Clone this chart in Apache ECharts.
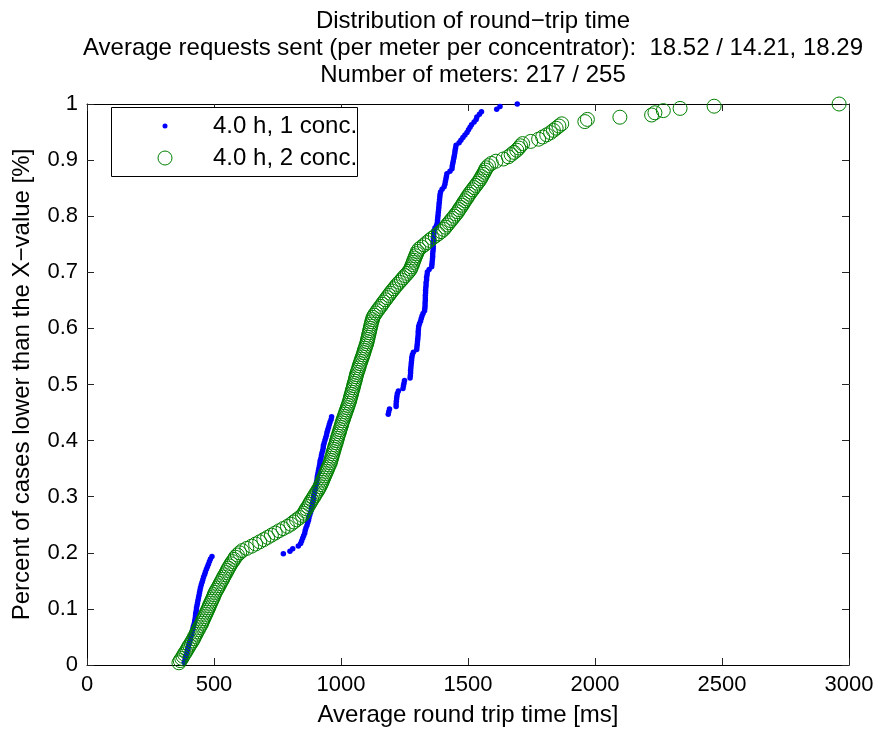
<!DOCTYPE html>
<html>
<head>
<meta charset="utf-8">
<script src="https://cdn.jsdelivr.net/npm/echarts@6/dist/echarts.min.js"></script>
<style>html,body{margin:0;padding:0;background:#fff;}#c{width:882px;height:733px;}</style>
</head>
<body>
<div id="c"></div>
<script>
// Sorted round-trip times (ms), one per meter
const blueX = [
383,386,388,391,394,396,399,402,404,407,409,412,414,417,419,422,424,426,427,428,
430,431,433,435,437,439,441,443,445,447,450,453,456,459,463,466,470,474,478,482,
486,492,
773,799,810,832,841,845,849,853,857,859,862,866,869,872,874,877,880,883,885,887,
889,891,892,894,896,898,900,902,904,906,907,909,911,913,915,917,918,921,923,925,
928,930,931,934,937,940,943,945,948,951,954,957,961,963,
1186,1188,1191,1217,1217,1218,1219,1220,1222,1226,1244,1246,1248,1250,
1272,1273,1274,1274,1275,1276,1277,1278,1279,1281,1285,
1298,1299,1300,1301,1302,1303,1304,1304,1305,1306,1309,1313,1316,1319,1323,
1329,1330,1331,1331,1332,1332,1332,1333,1333,1334,1335,1335,1337,1337,1339,1340,
1347,1357,1358,1359,1360,1361,1361,1362,1363,1363,1363,1364,1364,1365,1365,1366,
1370,1376,1379,1380,1381,1382,1383,1384,1385,1386,1387,1388,1389,1390,1392,
1398,1406,1409,1411,1413,1415,1417,1429,1437,1438,1440,1442,1444,1446,1448,1449,
1451,1453,1465,1472,1480,1488,1496,1502,1508,1514,1524,1532,1535,1545,1553,
1613,1626,1694
];
const greenX = [
362,367,373,378,383,389,394,399,404,410,
415,420,424,429,433,438,442,447,452,455,
459,463,467,471,475,479,482,486,490,494,
498,501,505,510,515,520,524,529,534,538,
543,548,552,557,562,567,573,579,584,592,
601,611,629,648,664,680,696,711,726,741,
756,772,789,803,814,825,837,848,854,859,
864,870,875,880,885,891,896,901,907,912,
917,921,925,928,932,936,939,943,947,950,
954,958,960,963,965,968,970,973,975,978,
981,983,986,988,991,994,996,999,1002,1004,
1007,1010,1013,1016,1019,1022,1025,1028,1031,1034,
1036,1038,1041,1043,1045,1048,1050,1052,1055,1057,
1059,1061,1064,1067,1070,1072,1075,1078,1081,1084,
1087,1090,1092,1095,1098,1101,1103,1105,1107,1109,
1111,1113,1115,1117,1119,1121,1124,1126,1131,1137,
1143,1149,1156,1162,1168,1175,1181,1188,1194,1201,
1208,1215,1222,1230,1238,1245,1253,1261,1268,1274,
1277,1281,1284,1287,1291,1294,1298,1301,1307,1317,
1328,1338,1348,1359,1371,1383,1394,1404,1411,1418,
1425,1432,1439,1446,1453,1460,1465,1471,1477,1482,
1488,1494,1499,1505,1511,1518,1524,1531,1537,1544,
1549,1554,1559,1564,1568,1573,1581,1592,1610,1639,
1659,1670,1681,1692,1700,1707,1715,1747,1778,1794,
1810,1825,1836,1847,1858,1869,1960,1970,2098,2223,
2236,2269,2335,2469,2961
];
const seriesNames = ['4.0 h, 1 conc.', '4.0 h, 2 conc.'];
const xTicks = [0, 500, 1000, 1500, 2000, 2500, 3000];
const yTicks = [0, 0.1, 0.2, 0.3, 0.4, 0.5, 0.6, 0.7, 0.8, 0.9, 1];
const titleLines = [
  'Distribution of round\u2212trip time',
  'Average requests sent (per meter per concentrator):  18.52 / 14.21, 18.29',
  'Number of meters: 217 / 255'
];
const xName = 'Average round trip time [ms]';
const yName = 'Percent of cases lower than the X\u2212value [%]';

// empirical cumulative fraction: k-th smallest value of N -> k/N
function ecdf(xs) { const n = xs.length; return xs.map((v, i) => [v, (i + 1) / n]); }

const FONT = '"Liberation Sans", Arial, Helvetica, sans-serif';
const FS = 24;      // titles, axis names, legend
const TFS = 22;     // tick labels
const chart = echarts.init(document.getElementById('c'), null, {renderer: 'canvas'});
const axCommon = {
  type: 'value',
  axisLine: {show: true, onZero: false, lineStyle: {color: '#000', width: 1}},
  axisTick: {show: true, inside: true, length: 7, lineStyle: {color: '#262626', width: 1}},
  splitLine: {show: false}
};
chart.setOption({
  animation: false,
  backgroundColor: '#fff',
  textStyle: {fontFamily: FONT},
  title: {
    text: titleLines.join('\n'),
    left: 468, top: 3, textAlign: 'center',
    textStyle: {fontFamily: FONT, fontSize: FS, fontWeight: 'normal', color: '#000', lineHeight: 27}
  },
  grid: {left: 87, right: 33, top: 104, bottom: 68, containLabel: false},
  xAxis: [
    Object.assign({}, axCommon, {
      position: 'bottom', min: xTicks[0], max: xTicks[xTicks.length - 1], interval: xTicks[1] - xTicks[0],
      axisLabel: {show: true, fontSize: TFS, color: '#000', margin: 9, fontFamily: FONT,
        formatter: v => String(v)},
      name: xName, nameLocation: 'middle', nameGap: 38,
      nameTextStyle: {fontSize: FS, color: '#000', fontFamily: FONT}
    }),
    Object.assign({}, axCommon, {
      position: 'top', min: xTicks[0], max: xTicks[xTicks.length - 1], interval: xTicks[1] - xTicks[0],
      axisLabel: {show: false}
    })
  ],
  yAxis: [
    Object.assign({}, axCommon, {
      position: 'left', min: yTicks[0], max: yTicks[yTicks.length - 1], interval: 0.1,
      axisLabel: {show: true, fontSize: TFS, color: '#000', margin: 9, fontFamily: FONT,
        formatter: v => String(Math.round(v * 10) / 10)},
      name: yName, nameLocation: 'middle', nameGap: 53, nameRotate: 90,
      nameTextStyle: {fontSize: FS, color: '#000', fontFamily: FONT}
    }),
    Object.assign({}, axCommon, {
      position: 'right', min: yTicks[0], max: yTicks[yTicks.length - 1], interval: 0.1,
      axisLabel: {show: false}
    })
  ],
  graphic: [
    {type: 'rect', left: 111, top: 107, z: 10,
      shape: {width: 246, height: 69},
      style: {fill: '#fff', stroke: '#000', lineWidth: 1}},
    {type: 'circle', x: 165, y: 126, z: 11, shape: {r: 2.5}, style: {fill: '#0000ff'}},
    {type: 'circle', x: 165, y: 158, z: 11, shape: {r: 7}, style: {fill: 'none', stroke: '#008000', lineWidth: 1}},
    {type: 'text', x: 213, y: 126, z: 11,
      style: {text: seriesNames[0], fill: '#000', font: FS + 'px ' + FONT, verticalAlign: 'middle', align: 'left'}},
    {type: 'text', x: 213, y: 158, z: 11,
      style: {text: seriesNames[1], fill: '#000', font: FS + 'px ' + FONT, verticalAlign: 'middle', align: 'left'}}
  ],
  series: [
    {
      name: seriesNames[0], type: 'scatter', xAxisIndex: 0, yAxisIndex: 0,
      symbol: 'circle', symbolSize: 5.5,
      itemStyle: {color: '#0000ff', opacity: 1},
      data: ecdf(blueX), z: 2
    },
    {
      name: seriesNames[1], type: 'scatter', xAxisIndex: 0, yAxisIndex: 0,
      symbol: 'circle', symbolSize: 14,
      itemStyle: {color: 'rgba(0,0,0,0)', borderColor: '#008000', borderWidth: 1, opacity: 1},
      data: ecdf(greenX), z: 3
    }
  ]
});
</script>
</body>
</html>
